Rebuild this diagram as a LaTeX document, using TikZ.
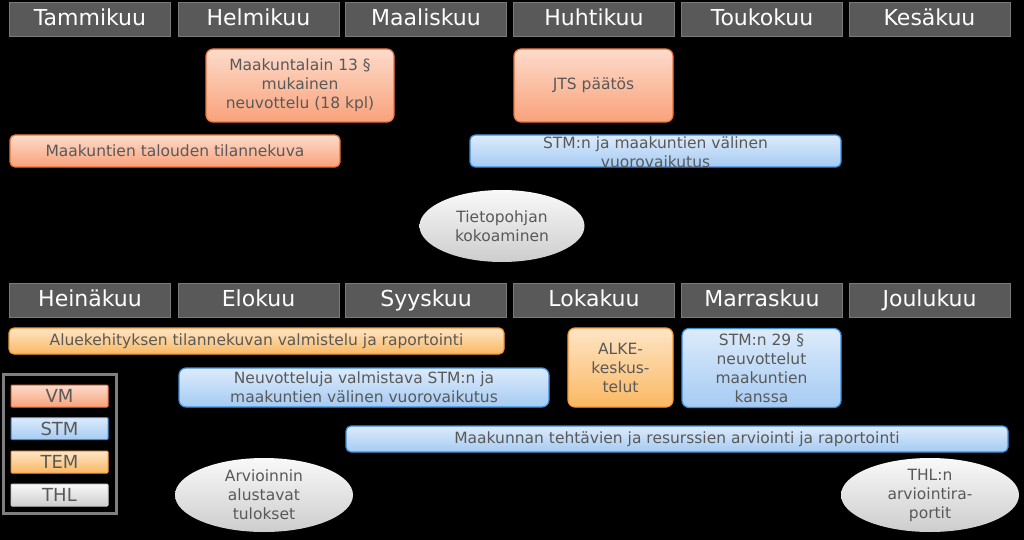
\documentclass[tikz,border=0pt]{standalone}
\usepackage{fontspec}
\setmainfont{DejaVu Sans}
\usetikzlibrary{shapes.geometric}
\definecolor{monthfill}{HTML}{595959}
\definecolor{monthdraw}{HTML}{7A7A7A}
\definecolor{txtgray}{HTML}{595959}
\definecolor{vmtop}{HTML}{FDDBCB}
\definecolor{vmbot}{HTML}{F9A27A}
\definecolor{vmdraw}{HTML}{E8743B}
\definecolor{stmtop}{HTML}{DDEBFB}
\definecolor{stmbot}{HTML}{A5CBF3}
\definecolor{stmdraw}{HTML}{3C8EDB}
\definecolor{temtop}{HTML}{FEE5C6}
\definecolor{tembot}{HTML}{FAB862}
\definecolor{temdraw}{HTML}{F39A3A}
\definecolor{thltop}{HTML}{F9F9F9}
\definecolor{thlbot}{HTML}{CDCDCD}
\definecolor{legdraw}{HTML}{7F7F7F}
\begin{document}
\begin{tikzpicture}[x=1pt,y=-1pt,
  box/.style={rounded corners=7pt, line width=1.2pt, inner sep=0pt, align=center,
    text=txtgray, font=\fontsize{15.5}{19}\selectfont},
  vm/.style={box, draw=vmdraw, top color=vmtop, bottom color=vmbot},
  stm/.style={box, draw=stmdraw, top color=stmtop, bottom color=stmbot},
  tem/.style={box, draw=temdraw, top color=temtop, bottom color=tembot},
  thl/.style={ellipse, draw=none, inner sep=-4pt, align=center, text=txtgray,
    top color=thltop, bottom color=thlbot, font=\fontsize{15.5}{19}\selectfont,
    minimum width=178pt, minimum height=74pt},
  month/.style={draw=monthdraw, fill=monthfill, line width=1pt, inner sep=0pt,
    text=white, font=\fontsize{22}{26}\selectfont,
    text height=16pt, text depth=4pt,
    minimum width=161pt, minimum height=34pt},
  legitem/.style={rounded corners=1pt, line width=1pt, inner sep=0pt,
    minimum width=97pt, minimum height=22pt, font=\fontsize{18}{20}\selectfont, text=txtgray},
]
\useasboundingbox[fill=black] (0,0) rectangle (1024,540);

% months, first half
\node[month] (m1) at (90,20) {Tammikuu};
\node[month] (m2) at (258.5,20) {Helmikuu};
\node[month] (m3) at (426,20) {Maaliskuu};
\node[month] (m4) at (594,20) {Huhtikuu};
\node[month] (m5) at (762,20) {Toukokuu};
\node[month] (m6) at (929.5,20) {Kesäkuu};

% months, second half
\node[month] (m7) at (90,300) {Heinäkuu};
\node[month] (m8) at (258.5,300) {Elokuu};
\node[month] (m9) at (426,300) {Syyskuu};
\node[month] (m10) at (594,300) {Lokakuu};
\node[month] (m11) at (762,300) {Marraskuu};
\node[month] (m12) at (929.5,300) {Joulukuu};

% first half activities
\node[vm, minimum width=188pt, minimum height=73pt] (maak13) at (300,85.5)
  {Maakuntalain 13 §\\mukainen\\neuvottelu (18 kpl)};
\node[vm, minimum width=159pt, minimum height=73pt] (jts) at (593.5,85.5) {JTS päätös};
\node[vm, rounded corners=5pt, minimum width=330pt, minimum height=32pt] (talous) at (175,151)
  {Maakuntien talouden tilannekuva};
\node[stm, rounded corners=5pt, minimum width=371pt, minimum height=32pt] (stm1) at (655.5,151) {};
\begin{scope}
  \clip (stm1.south west) rectangle (stm1.north east);
  \node[box, draw=none] (stm1txt) at (655.5,152) {STM:n ja maakuntien välinen\\vuorovaikutus};
\end{scope}
\node[thl, minimum width=165pt, minimum height=72pt] (tieto) at (502,226) {Tietopohjan\\kokoaminen};

% second half activities
\node[tem, rounded corners=5pt, minimum width=495pt, minimum height=26pt] (alue) at (256.5,341)
  {Aluekehityksen tilannekuvan valmistelu ja raportointi};
\node[stm, minimum width=370pt, minimum height=39pt] (neuv) at (364,387.5)
  {Neuvotteluja valmistava STM:n ja\\maakuntien välinen vuorovaikutus};
\node[tem, minimum width=105pt, minimum height=79pt] (alke) at (620.5,367.5)
  {ALKE-\\keskus-\\telut};
\node[stm, minimum width=159pt, minimum height=79pt] (stm29) at (761.5,368)
  {STM:n 29 §\\neuvottelut\\maakuntien\\kanssa};
\node[stm, rounded corners=5pt, minimum width=662pt, minimum height=26pt] (teht) at (677,439)
  {Maakunnan tehtävien ja resurssien arviointi ja raportointi};
\node[thl] (arv) at (264,495) {Arvioinnin\\alustavat\\tulokset};
\node[thl] (thlr) at (930,495) {THL:n\\arviointira-\\portit};

% legend
\node[draw=legdraw, line width=3pt, minimum width=113pt, minimum height=139pt, inner sep=0pt] (legend) at (60,444) {};
\node[legitem, draw=vmdraw, top color=vmtop, bottom color=vmbot] (lvm) at (59.5,396) {VM};
\node[legitem, draw=stmdraw, top color=stmtop, bottom color=stmbot] (lstm) at (59.5,428.5) {STM};
\node[legitem, draw=temdraw, top color=temtop, bottom color=tembot] (ltem) at (59.5,462) {TEM};
\node[legitem, draw=thlbot, top color=thltop, bottom color=thlbot] (lthl) at (59.5,495) {THL};
\end{tikzpicture}
\end{document}
